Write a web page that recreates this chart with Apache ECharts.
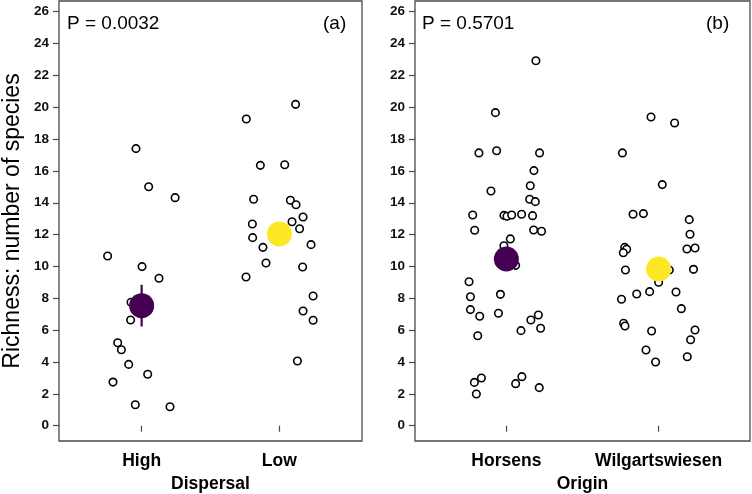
<!DOCTYPE html>
<html>
<head>
<meta charset="utf-8">
<script src="https://cdn.jsdelivr.net/npm/echarts@6/dist/echarts.min.js"></script>
<style>
  html, body { margin: 0; padding: 0; background: #fff; }
  #chart { width: 752px; height: 494px; }
</style>
</head>
<body>
<div id="chart"></div>
<script>
// categories
const dispersalCats = ['High', 'Low']
const originCats = ['Horsens', 'Wilgartswiesen']
const yTicks = [0, 2, 4, 6, 8, 10, 12, 14, 16, 18, 20, 22, 24, 26]

// jittered raw points [x, richness]
const highPts = [[0.959, 17.40], [1.051, 15.01], [1.243, 14.32], [0.753, 10.66], [1.003, 9.99], [1.126, 9.26], [0.923, 7.75], [0.920, 6.64], [0.826, 5.21], [0.853, 4.77], [0.906, 3.85], [1.044, 3.23], [0.792, 2.74], [0.954, 1.32], [1.206, 1.19]]
const lowPts = [[1.760, 19.26], [2.118, 20.18], [1.862, 16.35], [2.039, 16.39], [1.813, 14.22], [2.080, 14.16], [2.121, 13.88], [2.172, 13.11], [1.804, 12.67], [2.092, 12.81], [2.147, 12.37], [1.806, 11.81], [2.230, 11.37], [1.881, 11.20], [1.903, 10.22], [1.758, 9.34], [2.169, 9.97], [2.245, 8.15], [2.172, 7.20], [2.245, 6.62], [2.131, 4.06]]
const horsensPts = [[1.194, 22.92], [0.928, 19.66], [0.820, 17.13], [0.936, 17.27], [1.218, 17.13], [1.181, 16.02], [0.899, 14.74], [1.157, 15.07], [1.153, 14.22], [1.190, 14.07], [0.779, 13.23], [0.984, 13.21], [1.004, 13.15], [1.035, 13.23], [1.100, 13.28], [1.172, 13.19], [0.792, 12.27], [1.179, 12.29], [1.231, 12.21], [1.026, 11.73], [0.984, 11.30], [1.061, 10.07], [0.755, 9.04], [0.764, 8.10], [0.961, 8.25], [0.764, 7.29], [0.825, 6.87], [0.948, 7.06], [1.161, 6.64], [1.210, 6.95], [1.225, 6.12], [1.096, 5.97], [0.812, 5.65], [0.836, 3.00], [0.790, 2.72], [0.803, 1.99], [1.061, 2.64], [1.102, 3.08], [1.216, 2.39]]
const wilgPts = [[1.950, 19.39], [2.105, 19.01], [1.762, 17.13], [2.024, 15.14], [1.832, 13.28], [1.900, 13.32], [2.201, 12.94], [2.206, 12.02], [1.777, 11.20], [1.790, 11.08], [1.768, 10.86], [2.186, 11.10], [2.239, 11.16], [1.782, 9.78], [2.229, 9.82], [2.070, 9.78], [2.000, 9.01], [1.856, 8.27], [1.941, 8.42], [2.114, 8.40], [1.756, 7.94], [2.149, 7.35], [1.770, 6.43], [1.779, 6.26], [1.954, 5.95], [2.239, 6.01], [1.917, 4.75], [1.980, 4.00], [2.188, 4.33], [2.210, 5.40]]

// group means and error half-widths
const dispersalMean = [7.54, 12.04]
const dispersalErr = [1.31, 0.7]
const originMean = [10.47, 9.84]
const originErr = [0.7, 0.7]
const meanColors = ['#440154', '#FDE725']

const font = "'Liberation Sans', Arial, Helvetica, sans-serif"
const axisCol = '#4a4a4a'

const chart = echarts.init(document.getElementById('chart'))

const yAxisCfg = (gridIndex, name) => ({
  gridIndex,
  type: 'value',
  min: -0.96,
  max: 26.67,
  name,
  nameLocation: 'middle',
  nameGap: 35,
  nameTextStyle: { fontFamily: font, fontSize: 23, color: '#000' },
  axisLine: { show: false },
  splitLine: { show: false },
  axisTick: { show: true, length: 6, customValues: yTicks, lineStyle: { color: axisCol, width: 1.2 } },
  axisLabel: {
    customValues: yTicks,
    margin: 10,
    fontFamily: font,
    fontSize: 13.5,
    fontWeight: 'bold',
    color: '#111'
  }
})

const xAxisCfg = (gridIndex, cats, name) => ({
  gridIndex,
  type: 'value',
  min: 0.4,
  max: 2.6,
  name,
  nameLocation: 'middle',
  nameGap: 33,
  nameTextStyle: { fontFamily: font, fontSize: 17.5, fontWeight: 'bold', color: '#000' },
  axisLine: { show: false },
  splitLine: { show: false },
  axisTick: { show: true, length: 6, customValues: [1, 2], lineStyle: { color: axisCol, width: 1.2 } },
  axisLabel: {
    customValues: [1, 2],
    margin: 11,
    formatter: v => cats[Math.round(v) - 1],
    fontFamily: font,
    fontSize: 17.5,
    fontWeight: 'bold',
    color: '#000'
  }
})

const rawSeries = (idx, pts) => ({
  type: 'scatter',
  xAxisIndex: idx,
  yAxisIndex: idx,
  data: pts,
  symbol: 'circle',
  symbolSize: 7.5,
  itemStyle: { color: '#fff', borderColor: '#000', borderWidth: 1.6, opacity: 1 },
  z: 2
})

const errSeries = (idx, means, errs) => ({
  type: 'custom',
  xAxisIndex: idx,
  yAxisIndex: idx,
  data: means.map((m, i) => [i + 1, m - errs[i], m + errs[i]]),
  renderItem: (params, api) => {
    const a = api.coord([api.value(0), api.value(1)])
    const b = api.coord([api.value(0), api.value(2)])
    return {
      type: 'line',
      shape: { x1: a[0], y1: a[1], x2: b[0], y2: b[1] },
      style: { stroke: meanColors[params.dataIndex], lineWidth: 2.2 }
    }
  },
  z: 3
})

const meanSeries = (idx, means) => ({
  type: 'scatter',
  xAxisIndex: idx,
  yAxisIndex: idx,
  data: means.map((m, i) => ({ value: [i + 1, m], itemStyle: { color: meanColors[i], opacity: 1 } })),
  symbol: 'circle',
  symbolSize: 25,
  z: 4
})

const txt = (text, left) => ({
  text,
  left,
  top: 9,
  textStyle: { fontFamily: font, fontSize: 19, fontWeight: 'normal', color: '#000' }
})

chart.setOption({
  backgroundColor: '#fff',
  animation: false,
  title: [
    txt('P = 0.0032', 62),
    txt('(a)', 318),
    txt('P = 0.5701', 417),
    txt('(b)', 701)
  ],
  grid: [
    { left: 59, top: 1, width: 303, height: 440, outerBoundsMode: 'none', show: true, borderColor: axisCol, borderWidth: 1.3 },
    { left: 415, top: 1, width: 335, height: 440, outerBoundsMode: 'none', show: true, borderColor: axisCol, borderWidth: 1.3 }
  ],
  xAxis: [
    xAxisCfg(0, dispersalCats, 'Dispersal'),
    xAxisCfg(1, originCats, 'Origin')
  ],
  yAxis: [
    yAxisCfg(0, 'Richness: number of species'),
    yAxisCfg(1, '')
  ],
  series: [
    rawSeries(0, highPts),
    rawSeries(0, lowPts),
    rawSeries(1, horsensPts),
    rawSeries(1, wilgPts),
    errSeries(0, dispersalMean, dispersalErr),
    errSeries(1, originMean, originErr),
    meanSeries(0, dispersalMean),
    meanSeries(1, originMean)
  ]
})
</script>
</body>
</html>
